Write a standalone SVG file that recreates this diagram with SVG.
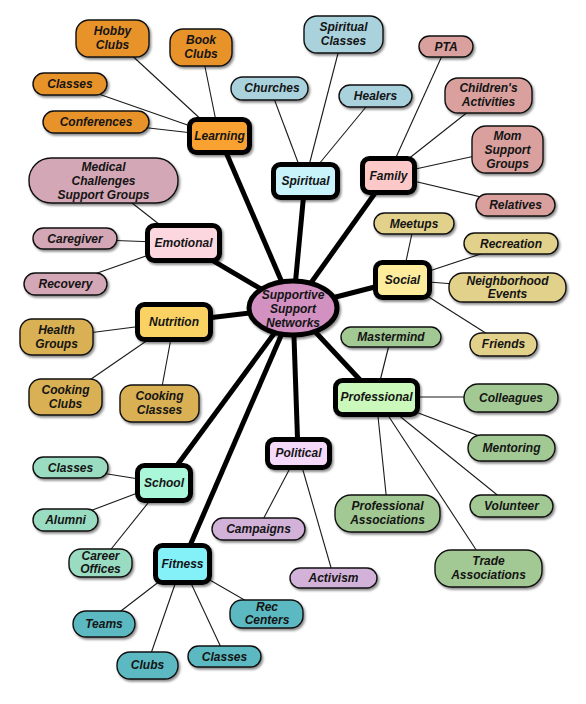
<svg xmlns="http://www.w3.org/2000/svg" width="586" height="704" viewBox="0 0 586 704">
<defs>
<filter id="sh" x="-20%" y="-20%" width="150%" height="160%"><feDropShadow dx="1.5" dy="2" stdDeviation="1.3" flood-color="#000" flood-opacity="0.45"/></filter>
<style>
text{font-family:"Liberation Sans",Arial,sans-serif;font-weight:bold;font-style:italic;font-size:12px;fill:#141414;text-anchor:middle}
.thick{stroke:#000;stroke-width:5;fill:none}
.thin{stroke:#1a1a1a;stroke-width:1.1;fill:none}
.cat{stroke:#000;stroke-width:5;filter:url(#sh)}
.leaf{stroke:#111;stroke-width:1.4;filter:url(#sh)}
.lo{fill:#e8922c}.co{fill:#f9a232}
.lb{fill:#a9d2dd}.cb{fill:#c8f3fb}
.lf{fill:#d9a09d}.cf{fill:#fcc9c8}
.le{fill:#d3a7b5}.ce{fill:#fcd7e0}
.ln{fill:#d9b052}.cn{fill:#f9d264}
.ls{fill:#e2d18a}.cs{fill:#fcec9c}
.lp{fill:#a2c993}.cp{fill:#cbf8bb}
.lv{fill:#d2b2d9}.cv{fill:#f5d9fb}
.lm{fill:#9adcc2}.cm{fill:#aaf7da}
.lt{fill:#5bb9c1}.ct{fill:#84f0f8}
</style>
</defs>
<rect width="586" height="704" fill="#fff"/>
<g id="connectors">
<g class="thin">
<line x1="113" y1="38" x2="219" y2="136"/><line x1="201" y1="47" x2="219" y2="136"/><line x1="70" y1="84" x2="219" y2="136"/><line x1="96" y1="122" x2="219" y2="136"/>
<line x1="343" y1="34" x2="305" y2="181"/><line x1="270" y1="88" x2="305" y2="181"/><line x1="375" y1="96" x2="305" y2="181"/>
<line x1="446" y1="47" x2="388" y2="175"/><line x1="488" y1="96" x2="388" y2="175"/><line x1="507" y1="149" x2="388" y2="175"/><line x1="515" y1="205" x2="388" y2="175"/>
<line x1="104" y1="181" x2="183" y2="243"/><line x1="75" y1="239" x2="183" y2="243"/><line x1="66" y1="284" x2="183" y2="243"/>
<line x1="57" y1="337" x2="174" y2="322"/><line x1="65" y1="397" x2="174" y2="322"/><line x1="159" y1="403" x2="174" y2="322"/>
<line x1="414" y1="224" x2="402" y2="280"/><line x1="511" y1="244" x2="402" y2="280"/><line x1="507" y1="288" x2="402" y2="280"/><line x1="503" y1="344" x2="402" y2="280"/>
<line x1="391" y1="337" x2="376" y2="397"/><line x1="511" y1="397" x2="376" y2="397"/><line x1="511" y1="448" x2="376" y2="397"/><line x1="511" y1="506" x2="376" y2="397"/><line x1="388" y1="513" x2="376" y2="397"/><line x1="488" y1="568" x2="376" y2="397"/>
<line x1="258" y1="529" x2="298" y2="453"/><line x1="334" y1="578" x2="298" y2="453"/>
<line x1="70" y1="468" x2="164" y2="483"/><line x1="66" y1="520" x2="164" y2="483"/><line x1="100" y1="563" x2="164" y2="483"/>
<line x1="104" y1="624" x2="182" y2="564"/><line x1="147" y1="665" x2="182" y2="564"/><line x1="225" y1="656" x2="182" y2="564"/><line x1="267" y1="613" x2="182" y2="564"/>
</g>
<g class="thick">
<line x1="293" y1="308" x2="219" y2="136"/><line x1="293" y1="308" x2="305" y2="181"/><line x1="293" y1="308" x2="388" y2="175"/><line x1="293" y1="308" x2="183" y2="243"/><line x1="293" y1="308" x2="402" y2="280"/><line x1="293" y1="308" x2="174" y2="322"/><line x1="293" y1="308" x2="376" y2="397"/><line x1="293" y1="308" x2="298" y2="453"/><line x1="293" y1="308" x2="164" y2="483"/><line x1="293" y1="308" x2="182" y2="564"/>
</g>
</g>
<g id="center"><ellipse cx="293" cy="308" rx="44" ry="27" fill="#d291c1" stroke="#000" stroke-width="5" filter="url(#sh)"/><text x="293" y="299">Supportive</text><text x="293" y="313">Support</text><text x="293" y="327">Networks</text></g>

<g id="learning"><rect class="cat co" x="189.5" y="119.5" width="60" height="33" rx="7"/><text x="219.5" y="140">Learning</text></g>
<g id="spiritual"><rect class="cat cb" x="273.5" y="164.5" width="64" height="33" rx="7"/><text x="305.5" y="185">Spiritual</text></g>
<g id="family"><rect class="cat cf" x="362.5" y="158.5" width="52" height="34" rx="7"/><text x="388.5" y="180">Family</text></g>
<g id="emotional"><rect class="cat ce" x="147.5" y="225.5" width="72" height="35" rx="7"/><text x="183.5" y="247">Emotional</text></g>
<g id="social"><rect class="cat cs" x="375.5" y="262.5" width="54" height="35" rx="7"/><text x="402.5" y="284">Social</text></g>
<g id="nutrition"><rect class="cat cn" x="137.5" y="304.5" width="73" height="35" rx="7"/><text x="174" y="326">Nutrition</text></g>
<g id="professional"><rect class="cat cp" x="335.5" y="380.5" width="82" height="34" rx="7"/><text x="376.5" y="401">Professional</text></g>
<g id="political"><rect class="cat cv" x="267.5" y="439.5" width="62" height="28" rx="7"/><text x="298.5" y="457">Political</text></g>
<g id="school"><rect class="cat cm" x="137.5" y="465.5" width="53" height="35" rx="7"/><text x="164" y="487">School</text></g>
<g id="fitness"><rect class="cat ct" x="155.5" y="545.5" width="54" height="37" rx="7"/><text x="182.5" y="568">Fitness</text></g>

<g id="hobby-clubs"><rect class="leaf lo" x="76" y="20" width="73" height="37" rx="13"/><text x="112.5" y="35">Hobby</text><text x="112.5" y="49">Clubs</text></g>
<g id="book-clubs"><rect class="leaf lo" x="170" y="29" width="62" height="37" rx="13"/><text x="201" y="44">Book</text><text x="201" y="58">Clubs</text></g>
<g id="learning-classes"><rect class="leaf lo" x="33" y="73" width="74" height="22" rx="11"/><text x="70" y="88">Classes</text></g>
<g id="conferences"><rect class="leaf lo" x="43" y="111" width="106" height="22" rx="11"/><text x="96" y="126">Conferences</text></g>

<g id="spiritual-classes"><rect class="leaf lb" x="304" y="16" width="79" height="37" rx="13"/><text x="343.5" y="31">Spiritual</text><text x="343.5" y="45">Classes</text></g>
<g id="churches"><rect class="leaf lb" x="231" y="77" width="77" height="23" rx="11.5"/><text x="272" y="92">Churches</text></g>
<g id="healers"><rect class="leaf lb" x="339" y="85" width="73" height="22" rx="11"/><text x="375.5" y="100">Healers</text></g>

<g id="pta"><rect class="leaf lf" x="419" y="36" width="54" height="21" rx="10.5"/><text x="446" y="51">PTA</text></g>
<g id="childrens-activities"><rect class="leaf lf" x="445" y="78" width="87" height="35" rx="13"/><text x="488.5" y="92">Children's</text><text x="488.5" y="106">Activities</text></g>
<g id="mom-support-groups"><rect class="leaf lf" x="472" y="126" width="71" height="47" rx="14"/><text x="507.5" y="140">Mom</text><text x="507.5" y="154">Support</text><text x="507.5" y="168">Groups</text></g>
<g id="relatives"><rect class="leaf lf" x="476" y="194" width="79" height="22" rx="11"/><text x="515.5" y="209">Relatives</text></g>

<g id="medical"><rect class="leaf le" x="29" y="158" width="149" height="45" rx="22"/><text x="103.5" y="171">Medical</text><text x="103.5" y="185">Challenges</text><text x="103.5" y="199">Support Groups</text></g>
<g id="caregiver"><rect class="leaf le" x="33" y="228" width="84" height="21" rx="10.5"/><text x="75" y="243">Caregiver</text></g>
<g id="recovery"><rect class="leaf le" x="24" y="273" width="83" height="22" rx="11"/><text x="65.5" y="288">Recovery</text></g>

<g id="health-groups"><rect class="leaf ln" x="20" y="319" width="73" height="36" rx="12"/><text x="56.5" y="334">Health</text><text x="56.5" y="348">Groups</text></g>
<g id="cooking-clubs"><rect class="leaf ln" x="29" y="379" width="73" height="36" rx="12"/><text x="65.5" y="394">Cooking</text><text x="65.5" y="408">Clubs</text></g>
<g id="cooking-classes"><rect class="leaf ln" x="120" y="385" width="79" height="37" rx="12"/><text x="159.5" y="400">Cooking</text><text x="159.5" y="414">Classes</text></g>

<g id="meetups"><rect class="leaf ls" x="374" y="213" width="80" height="21" rx="10.5"/><text x="414" y="228">Meetups</text></g>
<g id="recreation"><rect class="leaf ls" x="464" y="233" width="94" height="21" rx="10.5"/><text x="511" y="248">Recreation</text></g>
<g id="neighborhood-events"><rect class="leaf ls" x="449" y="273" width="117" height="29" rx="14"/><text x="507.5" y="285">Neighborhood</text><text x="507.5" y="298">Events</text></g>
<g id="friends"><rect class="leaf ls" x="470" y="333" width="67" height="23" rx="11.5"/><text x="503.5" y="348">Friends</text></g>

<g id="mastermind"><rect class="leaf lp" x="341" y="327" width="100" height="20" rx="10"/><text x="391" y="341">Mastermind</text></g>
<g id="colleagues"><rect class="leaf lp" x="464" y="384" width="94" height="28" rx="14"/><text x="511" y="402">Colleagues</text></g>
<g id="mentoring"><rect class="leaf lp" x="468" y="435" width="87" height="26" rx="13"/><text x="511.5" y="452">Mentoring</text></g>
<g id="volunteer"><rect class="leaf lp" x="470" y="495" width="83" height="22" rx="11"/><text x="511.5" y="510">Volunteer</text></g>
<g id="professional-associations"><rect class="leaf lp" x="335" y="495" width="105" height="37" rx="16"/><text x="387.5" y="510">Professional</text><text x="387.5" y="524">Associations</text></g>
<g id="trade-associations"><rect class="leaf lp" x="435" y="550" width="107" height="37" rx="16"/><text x="488.5" y="565">Trade</text><text x="488.5" y="579">Associations</text></g>

<g id="campaigns"><rect class="leaf lv" x="212" y="518" width="93" height="22" rx="11"/><text x="258.5" y="533">Campaigns</text></g>
<g id="activism"><rect class="leaf lv" x="290" y="568" width="87" height="20" rx="10"/><text x="333.5" y="582">Activism</text></g>

<g id="school-classes"><rect class="leaf lm" x="33" y="457" width="75" height="21" rx="10.5"/><text x="70.5" y="472">Classes</text></g>
<g id="alumni"><rect class="leaf lm" x="33" y="509" width="65" height="22" rx="11"/><text x="65.5" y="524">Alumni</text></g>
<g id="career-offices"><rect class="leaf lm" x="69" y="549" width="63" height="28" rx="12"/><text x="100.5" y="560">Career</text><text x="100.5" y="573">Offices</text></g>

<g id="teams"><rect class="leaf lt" x="73" y="611" width="62" height="26" rx="13"/><text x="104" y="628">Teams</text></g>
<g id="clubs"><rect class="leaf lt" x="117" y="652" width="61" height="27" rx="13"/><text x="147.5" y="669">Clubs</text></g>
<g id="fitness-classes"><rect class="leaf lt" x="188" y="646" width="73" height="21" rx="10.5"/><text x="224.5" y="661">Classes</text></g>
<g id="rec-centers"><rect class="leaf lt" x="230" y="600" width="73" height="28" rx="12"/><text x="267" y="611">Rec</text><text x="267" y="624">Centers</text></g>
</svg>
